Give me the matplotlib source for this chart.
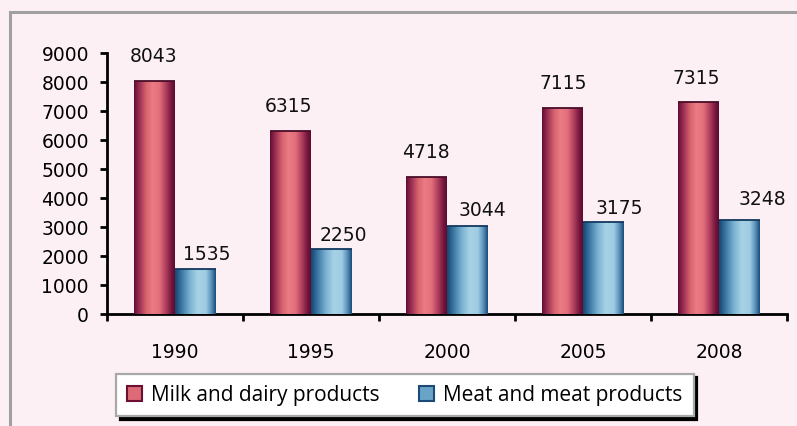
import matplotlib
matplotlib.use("Agg")
import matplotlib.pyplot as plt
import numpy as np
from matplotlib.colors import LinearSegmentedColormap
from matplotlib.patches import Rectangle, Patch

years = ["1990", "1995", "2000", "2005", "2008"]
milk = [8043, 6315, 4718, 7115, 7315]
meat = [1535, 2250, 3044, 3175, 3248]
series_names = ["Milk and dairy products", "Meat and meat products"]

# label placement (pixel offsets from bar top-centre), as in the original layout
milk_lbl_off = [(-1, 16), (-2, 16), (-1, 16), (1, 16), (-2, 15)]
meat_lbl_off = [(11, 6), (12, 5), (15, 7), (16, 5), (23, 12)]

bg = "#fdf0f4"
milk_cmap = LinearSegmentedColormap.from_list("milk", [
    (0.0, "#5e0c30"), (0.12, "#962c52"), (0.3, "#d8636f"), (0.45, "#ea7b85"),
    (0.62, "#e46f7b"), (0.8, "#a8385a"), (0.92, "#72153c"), (1.0, "#5c0b2e")])
meat_cmap = LinearSegmentedColormap.from_list("meat", [
    (0.0, "#18436e"), (0.12, "#2f6a98"), (0.35, "#76aed0"), (0.55, "#a6d1e6"),
    (0.75, "#a0cde3"), (0.88, "#5f95bd"), (1.0, "#1b4a78")])

num_font = {"family": "DejaVu Sans", "size": 13.5}
px = 72 / 100.0

fig = plt.figure(figsize=(7.97, 4.27), dpi=100, facecolor=bg)
ax = fig.add_axes([107/797, (427-315)/427, (787-107)/797, (315-54)/427])
ax.set_facecolor(bg)

x = np.arange(len(years))
w = 0.3
b1 = ax.bar(x - w/2, milk, width=w, color="#e06f7b", edgecolor="none", zorder=2)
b2 = ax.bar(x + w/2, meat, width=w, color="#8fc0da", edgecolor="none", zorder=2)

grad = np.linspace(0, 1, 256).reshape(1, -1)
for bars, cmap, top in ((b1, milk_cmap, "#4a0c28"), (b2, meat_cmap, "#12395e")):
    for r in bars:
        x0, y0 = r.get_x(), r.get_y()
        ww, hh = r.get_width(), r.get_height()
        im = ax.imshow(grad, cmap=cmap, aspect="auto", extent=[x0, x0 + ww, y0, y0 + hh],
                       zorder=3, interpolation="bilinear")
        im.set_clip_path(r)
        ax.plot([x0, x0 + ww], [y0 + hh, y0 + hh], color=top, lw=1.3, zorder=4,
                solid_capstyle="butt")

for bars, vals, offs in ((b1, milk, milk_lbl_off), (b2, meat, meat_lbl_off)):
    for r, v, (dx, dy) in zip(bars, vals, offs):
        ax.annotate(str(v), (r.get_x() + r.get_width()/2, v), xytext=(dx * px, dy * px),
                    textcoords="offset points", ha="center", va="bottom",
                    color="#111111", annotation_clip=False, **num_font)

ax.set_xlim(-0.5, len(years) - 0.5)
ax.set_ylim(0, 9000)
ax.set_yticks(range(0, 9001, 1000))
ax.set_yticklabels([str(v) for v in range(0, 9001, 1000)], **num_font)
ax.tick_params(axis="y", length=5, width=2, direction="out", pad=8)
ax.set_xticks(x)
ax.set_xticklabels(years, **num_font)
ax.tick_params(axis="x", length=0, pad=20)
ax.set_xticks(np.arange(-0.5, len(years)), minor=True)
ax.tick_params(axis="x", which="minor", length=5, width=2, direction="out")
for s in ("top", "right"):
    ax.spines[s].set_visible(False)
for s in ("left", "bottom"):
    ax.spines[s].set_linewidth(2)
    ax.spines[s].set_color("black")

# outer gray frame
fig.add_artist(Rectangle((10/797, -0.2), 1.2, (427-13)/427 + 0.2, transform=fig.transFigure,
                         fill=False, edgecolor="#a0a0a0", lw=2.2, zorder=0))

handles = [Patch(facecolor="#dc6a77", edgecolor="#6a1035", lw=1.5),
           Patch(facecolor="#6aa3c8", edgecolor="#1b4a78", lw=1.5)]
leg = fig.legend(handles, series_names, loc="center", bbox_to_anchor=(405/797, (427-396)/427),
                 ncol=2, frameon=True, fancybox=False, edgecolor="#a8a8a8", facecolor="white",
                 framealpha=1, shadow={"color": "black", "alpha": 1, "ox": 2.4, "oy": -2.4},
                 prop={"family": "Open Sans", "size": 15}, handlelength=0.7, handleheight=0.7,
                 handletextpad=0.45, columnspacing=1.9, borderpad=0.52, borderaxespad=0)
leg.get_frame().set_linewidth(1.6)

fig.savefig("out.png", dpi=100, facecolor=bg)
